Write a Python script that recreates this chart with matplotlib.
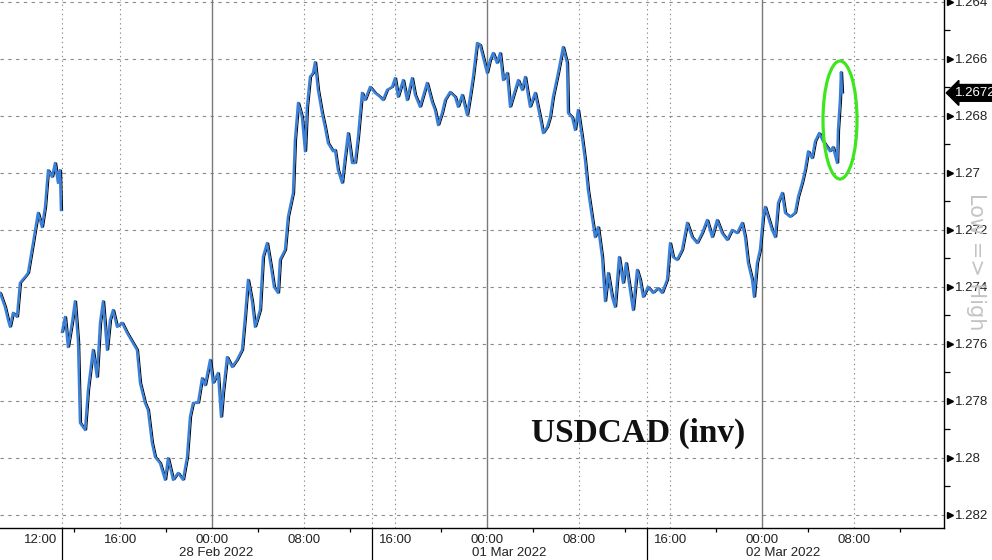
import matplotlib
matplotlib.use("Agg")
import matplotlib.pyplot as plt
import matplotlib.transforms as mtransforms
from matplotlib.patches import Ellipse
import numpy as np

# ---------------- data (hours relative to 28 Feb 2022 00:00, weekend compressed) ----------------
fri_hours = [-18.50, -18.07, -17.80, -17.63, -17.37, -17.02, -16.76, -16.32, -16.06, -15.62,
             -15.19, -14.84, -14.57, -14.31, -13.96, -13.70, -13.44, -13.27, -13.18]
fri_price = [1.27422, 1.27471, 1.27517, 1.27541, 1.27492, 1.27506, 1.27387, 1.27366, 1.27352, 1.27247,
             1.27141, 1.27191, 1.27120, 1.26991, 1.27015, 1.26966, 1.27036, 1.26991, 1.27131]

wk_hours = [-13.09, -12.83, -12.57, -12.22, -11.96, -11.69, -11.52, -11.08, -10.82, -10.39,
            -10.04, -9.77, -9.51, -9.16, -8.90, -8.64, -8.29, -7.85, -7.42, -6.98,
            -6.55, -6.28, -5.85, -5.59, -5.24, -4.97, -4.54, -4.10, -3.84, -3.40,
            -2.97, -2.53, -2.18, -1.92, -1.66, -1.22, -0.87, -0.61, -0.17, 0.09,
            0.52, 0.79, 0.96, 1.31, 1.75, 2.18, 2.62, 2.88, 3.14, 3.49,
            3.75, 4.19, 4.45, 4.80, 5.15, 5.41, 5.76, 5.93, 6.37, 6.63,
            7.07, 7.24, 7.51, 7.85, 8.12, 8.29, 8.55, 8.81, 8.99, 9.25,
            9.60, 9.86, 10.12, 10.56, 10.73, 10.99, 11.35, 11.61, 11.87, 12.22,
            12.48, 12.74, 13.09, 13.35, 13.79, 14.23, 14.66, 14.92, 15.27, 15.71,
            15.97, 16.23, 16.67, 17.02, 17.45, 17.72, 18.15, 18.76, 19.20, 19.46,
            19.73, 20.07, 20.34, 20.77, 21.21, 21.47, 21.82, 22.26, 22.52, 22.78,
            23.13, 23.39, 23.65, 24.00, 24.26, 24.52, 24.87, 25.14, 25.40, 25.75,
            26.01, 26.27, 26.71, 27.06, 27.32, 27.75, 28.19, 28.63, 28.89, 29.24,
            29.50, 29.76, 30.20, 30.63, 30.98, 31.07, 31.42, 31.68, 31.94, 32.29,
            32.55, 32.81, 33.16, 33.42, 33.69, 34.04, 34.30, 34.56, 34.91, 35.17,
            35.52, 35.87, 36.13, 36.48, 36.74, 37.09, 37.35, 37.62, 38.05, 38.49,
            38.92, 39.27, 39.71, 39.97, 40.23, 40.58, 41.02, 41.46, 41.89, 42.33,
            42.77, 43.20, 43.64, 44.07, 44.51, 44.95, 45.38, 45.82, 46.26, 46.52,
            46.78, 47.13, 47.30, 47.56, 47.82, 48.09, 48.26, 48.52, 48.87, 49.14,
            49.40, 49.75, 50.01, 50.45, 50.88, 51.14, 51.49, 51.75, 52.02, 52.36,
            52.63, 52.98, 53.33, 53.68, 53.93, 54.19, 54.55, 54.63, 54.80, 54.89,
            54.98]
wk_price = [1.27559, 1.27506, 1.27612, 1.27527, 1.27451, 1.27592, 1.27878, 1.27903, 1.27762, 1.27622,
            1.27717, 1.27527, 1.27451, 1.27622, 1.27517, 1.27482, 1.27541, 1.27527, 1.27562, 1.27592,
            1.27622, 1.27738, 1.27808, 1.27833, 1.27948, 1.27998, 1.28019, 1.28078, 1.28002, 1.28078,
            1.28054, 1.28078, 1.27998, 1.27857, 1.27808, 1.27808, 1.27721, 1.27746, 1.27657, 1.27738,
            1.27703, 1.27857, 1.27773, 1.27647, 1.27682, 1.27657, 1.27622, 1.27506, 1.27376, 1.27451,
            1.27541, 1.27482, 1.27296, 1.27247, 1.27331, 1.27401, 1.27422, 1.27306, 1.27271, 1.27155,
            1.27071, 1.26885, 1.26755, 1.26805, 1.26925, 1.26769, 1.26664, 1.26650, 1.26612, 1.26710,
            1.26791, 1.26840, 1.26896, 1.26925, 1.26920, 1.26991, 1.27036, 1.26945, 1.26861, 1.26966,
            1.26966, 1.26875, 1.26720, 1.26745, 1.26699, 1.26720, 1.26734, 1.26745, 1.26710, 1.26699,
            1.26668, 1.26734, 1.26675, 1.26745, 1.26668, 1.26727, 1.26769, 1.26685, 1.26752, 1.26780,
            1.26833, 1.26791, 1.26745, 1.26717, 1.26734, 1.26769, 1.26727, 1.26798, 1.26734, 1.26664,
            1.26545, 1.26552, 1.26594, 1.26650, 1.26605, 1.26580, 1.26615, 1.26580, 1.26675, 1.26650,
            1.26769, 1.26734, 1.26675, 1.26710, 1.26664, 1.26769, 1.26720, 1.26805, 1.26861, 1.26840,
            1.26805, 1.26734, 1.26650, 1.26559, 1.26615, 1.26791, 1.26805, 1.26850, 1.26780, 1.26875,
            1.26955, 1.27061, 1.27155, 1.27226, 1.27191, 1.27296, 1.27451, 1.27352, 1.27436, 1.27471,
            1.27296, 1.27387, 1.27317, 1.27412, 1.27482, 1.27341, 1.27376, 1.27436, 1.27401, 1.27422,
            1.27405, 1.27422, 1.27376, 1.27247, 1.27296, 1.27306, 1.27271, 1.27176, 1.27226, 1.27247,
            1.27212, 1.27166, 1.27226, 1.27166, 1.27212, 1.27236, 1.27201, 1.27212, 1.27176, 1.27226,
            1.27317, 1.27376, 1.27436, 1.27317, 1.27271, 1.27155, 1.27120, 1.27155, 1.27201, 1.27226,
            1.27106, 1.27071, 1.27141, 1.27155, 1.27141, 1.27085, 1.27036, 1.26991, 1.26925, 1.26949,
            1.26890, 1.26861, 1.26890, 1.26910, 1.26925, 1.26910, 1.26966, 1.26850, 1.26745, 1.26647,
            1.26720]

last_price = 1.2672

y_ticks = [1.264, 1.266, 1.268, 1.270, 1.272, 1.274, 1.276, 1.278, 1.280, 1.282]
y_tick_labels = ["1.264", "1.266", "1.268", "1.27", "1.272", "1.274", "1.276", "1.278", "1.28", "1.282"]
y_minor = [1.265, 1.267, 1.269, 1.271, 1.273, 1.275, 1.277, 1.279, 1.281]

x_ticks = [-15, -8, 0, 8, 16, 24, 32, 40, 48, 56]
x_tick_labels = ["12:00", "16:00", "00:00", "08:00", "16:00", "00:00", "08:00", "16:00", "00:00", "08:00"]
x_minor = [-12, -4, 4, 12, 20, 28, 36, 44, 52, 60]
day_lines = [0, 24, 48]
hour_grid = [-8, 8, 16, 32, 40, 56]
session_lines = [-13.09, 13.96, 37.96]
date_pos = [0.35, 25.9, 49.8]
date_labels = ["28 Feb 2022", "01 Mar 2022", "02 Mar 2022"]

# ---------------- figure ----------------
W, H = 992, 560
fig = plt.figure(figsize=(W / 100, H / 100), dpi=100)
fig.patch.set_facecolor("white")
ax = fig.add_axes([0, 32 / H, 944 / W, 528 / H])
ax.set_facecolor("white")

ax.set_xlim(-18.5, 63.88)
ax.set_ylim(1.28247, 1.26394)

# grid
for y in y_ticks:
    ax.axhline(y, color="#8a8a8a", lw=0.8, ls=(0, (3, 4)), zorder=1)
for x in hour_grid + session_lines:
    ax.axvline(x, color="#8a8a8a", lw=0.8, ls=(0, (1.2, 3)), zorder=1)
for x in day_lines:
    ax.axvline(x, color="#7a7a7a", lw=1.0, zorder=1)

# series: black outline offset + blue line
off = mtransforms.offset_copy(ax.transData, fig=fig, x=1.6, y=0, units="dots")
for hrs, prc in [(fri_hours, fri_price), (wk_hours, wk_price)]:
    ax.plot(hrs, prc, color="black", lw=0.8, transform=off, zorder=3)
    ax.plot(hrs, prc, color="#3a80d8", lw=1.8, zorder=4)

# spines
for s in ["left", "top"]:
    ax.spines[s].set_visible(False)
for s in ["right", "bottom"]:
    ax.spines[s].set_color("black")
    ax.spines[s].set_linewidth(1.0)

lab_font = dict(family="Liberation Sans", size=9.5)

# y axis on right
ax.yaxis.tick_right()
ax.set_yticks(y_ticks)
ax.set_yticklabels(y_tick_labels, **lab_font, color="#222222")
ax.set_yticks(y_minor, minor=True)
ax.tick_params(axis="y", which="major", length=0, pad=8)
ax.tick_params(axis="y", which="minor", length=4, width=0.9, color="black", direction="out")
ax.plot([1.0065] * len(y_ticks), y_ticks, ls="none", marker=">", ms=5, color="black",
        transform=ax.get_yaxis_transform(), clip_on=False, zorder=6)

# x axis
ax.set_xticks(x_ticks)
ax.set_xticklabels(x_tick_labels, **lab_font, color="#222222")
ax.set_xticks(x_minor, minor=True)
ax.tick_params(axis="x", which="major", length=0, pad=4)
ax.tick_params(axis="x", which="minor", length=3, width=0.9, color="black", direction="out")

xt = ax.get_xaxis_transform()
for xp, lbl in zip(date_pos, date_labels):
    ax.text(xp, -25 / 528, lbl, transform=xt, ha="center", va="center",
            color="#222222", **lab_font)
for xp in session_lines:
    ax.plot([xp, xp], [0, -32 / 528], color="black", lw=0.9, transform=xt, clip_on=False)

# last price tag
ax.text(1.012, last_price, "1.2672", transform=ax.get_yaxis_transform(), ha="left", va="center",
        color="white", family="Liberation Sans", size=9.5, zorder=10, clip_on=False,
        bbox=dict(boxstyle="larrow,pad=0.18", fc="black", ec="black"))

# title inside
ax.text(638 / 944, (528 - 442) / 528, "USDCAD (inv)", transform=ax.transAxes, ha="center",
        va="baseline", family="Liberation Serif", weight="bold", size=24, color="#111111", zorder=7)

# Low => High
fig.text(976 / W, 1 - 262 / H, "Low => High", rotation=270, ha="center", va="center",
         color="#c4c4c4", family="DejaVu Sans", size=15)

# green ellipse
ell = Ellipse((840 / W, 1 - 120 / H), 34 / W, 118 / H, transform=fig.transFigure,
              fill=False, ec="#3ee61e", lw=2.3, zorder=20)
fig.patches.append(ell)

fig.savefig("out.png", dpi=100, facecolor="white")
